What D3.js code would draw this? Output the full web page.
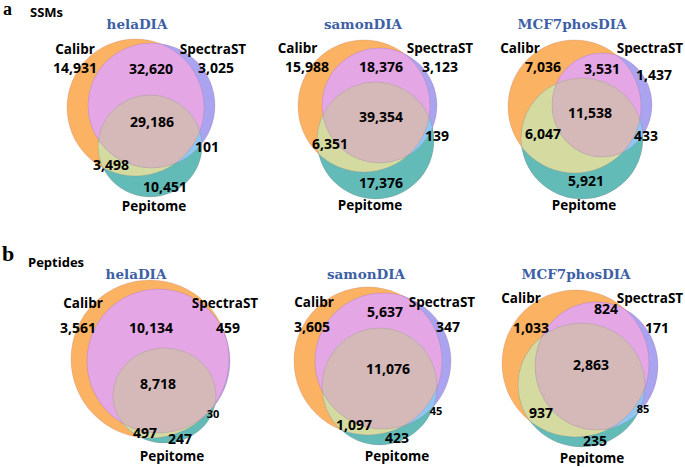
<!DOCTYPE html>
<html>
<head>
<meta charset="utf-8">
<script src="https://cdn.jsdelivr.net/npm/d3@7"></script>
<style>
  html, body { margin: 0; padding: 0; background: #fff; }
  svg { display: block; }
</style>
</head>
<body>
<div id="chart"></div>
<script>
// ---------------- DATA ----------------
const DATASETS = ["helaDIA", "samonDIA", "MCF7phosDIA"];
const LEVELS = ["SSMs", "Peptides"];
const PANEL_LETTERS = ["a", "b"];
const SETS = ["Calibr", "SpectraST", "Pepitome"];
// region order: Calibr only, SpectraST only, Pepitome only, C∩S, C∩P, S∩P, C∩S∩P
const REGIONS = ["C", "S", "P", "CS", "CP", "SP", "CSP"];
const SSM_COUNTS = [
  [14931, 3025, 10451, 32620, 3498, 101, 29186],
  [15988, 3123, 17376, 18376, 6351, 139, 39354],
  [7036, 1437, 5921, 3531, 6047, 433, 11538]
];
const PEPTIDE_COUNTS = [
  [3561, 459, 247, 10134, 497, 30, 8718],
  [3605, 347, 423, 5637, 1097, 45, 11076],
  [1033, 171, 235, 824, 937, 85, 2863]
];

// ---------------- LAYOUT (panel-local units) ----------------
const COL_ORIGIN = [0, 230, 455];
const ROW_ORIGIN = [0, 230];
const PANEL_SIZE = 230;
// ellipses [cx, cy, rx, ry] for Calibr, SpectraST, Pepitome
const ELLIPSES = [
  [
    [[135.5, 107.5, 68.5, 68.5], [151.5, 105.5, 63.5, 62.5], [150, 146, 52, 51]],
    [[134, 106, 66, 66], [149.5, 105.5, 57.5, 57.5], [145.5, 140.5, 58.5, 58.5]],
    [[119.5, 106.5, 66.5, 66.5], [147, 105, 50, 52], [127, 138.5, 61, 60.5]]
  ],
  [
    [[150, 129, 79, 79], [158.5, 131, 71.5, 72], [164.5, 165.5, 51.5, 47.5]],
    [[138, 131, 74, 74], [153, 131, 68, 68], [149.5, 156.5, 57.5, 58.5]],
    [[120.5, 133.5, 73.5, 73.5], [141.5, 136, 61.5, 64], [126.5, 155, 63.5, 62]]
  ]
];
// region label positions [x, baseline] in REGIONS order
const REGION_POS = [
  [
    [[75, 73], [216, 73], [165, 192], [151, 74], [111, 170], [207, 152], [152, 127]],
    [[77, 71.5], [210, 71.5], [151, 188], [151, 71.5], [100, 149], [207, 141], [151, 121.5]],
    [[88, 71.5], [199, 80], [131, 186], [147, 74], [88, 139], [191, 141], [135, 118]]
  ],
  [
    [[78, 103], [228, 103], [180, 214], [151, 103], [145, 208], [213, 187.5], [158, 158.5]],
    [[82, 101.7], [218, 101.7], [167, 213], [155, 86.7], [124, 199.5], [206, 185], [158, 144]],
    [[76, 103], [202, 103], [140, 216], [151, 84], [86, 187.7], [188, 183.3], [136, 140]]
  ]
];
// set label positions [x, baseline] (centered)
const SET_POS = [
  [
    [[75, 54], [213, 54], [154, 211]],
    [[67.5, 53], [210, 53], [140, 210]],
    [[65, 53], [195, 53], [129, 210]]
  ],
  [
    [[83, 78], [225, 78], [172, 230.5]],
    [[84, 77], [212, 77], [167, 231]],
    [[66, 73], [195, 73], [137, 233]]
  ]
];
const TITLE_POS = [
  [[137, 29], [133, 29], [117, 29]],
  [[136, 49], [136, 49], [121, 49]]
];
const ROW_LABEL_POS = [[30, 16.5], [28, 37]];
const LETTER_POS = [[3, 15], [2, 31]];
const LETTER_SIZE = [18, 22];

const REGION_COLORS = {
  C: "#fbb262", S: "#aaa3ef", P: "#63bbb8",
  CS: "#e5a6e5", CP: "#d5dba0", SP: "#90c6f4", CSP: "#d5b8b8"
};
const SMALL_REGIONS = { 1: ["SP"] }; // rows with smaller labels for tiny regions

// ---------------- DRAW ----------------
const W = 685, H = 467;
const svg = d3.select("#chart").append("svg").attr("width", W).attr("height", H);
const defs = svg.append("defs");
const fmt = d3.format(",");
const SANS = "'Open Sans', 'Liberation Sans', sans-serif";
const SERIF = "'DejaVu Serif', 'Liberation Serif', serif";

const allCounts = [SSM_COUNTS, PEPTIDE_COUNTS];

LEVELS.forEach((level, r) => {
  const rx0 = d3.scaleLinear().domain([0, PANEL_SIZE]).range([0, PANEL_SIZE]);
  const ry0 = d3.scaleLinear().domain([0, PANEL_SIZE]).range([ROW_ORIGIN[r], ROW_ORIGIN[r] + PANEL_SIZE]);
  svg.append("text")
    .attr("x", rx0(LETTER_POS[r][0])).attr("y", ry0(LETTER_POS[r][1]))
    .attr("font-family", "'Liberation Serif', serif").attr("font-weight", 700)
    .attr("font-size", LETTER_SIZE[r]).attr("fill", "#000").text(PANEL_LETTERS[r]);
  svg.append("text")
    .attr("x", rx0(ROW_LABEL_POS[r][0])).attr("y", ry0(ROW_LABEL_POS[r][1]))
    .attr("font-family", SANS).attr("font-weight", 700)
    .attr("font-size", 13).attr("fill", "#000").text(level);

  DATASETS.forEach((ds, c) => {
    const x = d3.scaleLinear().domain([0, PANEL_SIZE]).range([COL_ORIGIN[c], COL_ORIGIN[c] + PANEL_SIZE]);
    const y = d3.scaleLinear().domain([0, PANEL_SIZE]).range([ROW_ORIGIN[r], ROW_ORIGIN[r] + PANEL_SIZE]);
    const len = v => x(v) - x(0);
    const ells = ELLIPSES[r][c];
    const g = svg.append("g");
    const id = k => `clip-${r}-${c}-${k}`;

    ells.forEach((e, k) => {
      defs.append("clipPath").attr("id", id(k))
        .append("ellipse")
        .attr("cx", x(e[0])).attr("cy", y(e[1])).attr("rx", len(e[2])).attr("ry", len(e[3]));
    });
    const ellipse = (parent, k, fill) => {
      const e = ells[k];
      return parent.append("ellipse")
        .attr("cx", x(e[0])).attr("cy", y(e[1])).attr("rx", len(e[2])).attr("ry", len(e[3]))
        .attr("fill", fill);
    };
    ellipse(g, 0, REGION_COLORS.C);
    ellipse(g, 1, REGION_COLORS.S);
    ellipse(g, 2, REGION_COLORS.P);
    ellipse(g.append("g").attr("clip-path", `url(#${id(0)})`), 1, REGION_COLORS.CS);
    ellipse(g.append("g").attr("clip-path", `url(#${id(0)})`), 2, REGION_COLORS.CP);
    ellipse(g.append("g").attr("clip-path", `url(#${id(1)})`), 2, REGION_COLORS.SP);
    ellipse(g.append("g").attr("clip-path", `url(#${id(0)})`)
      .append("g").attr("clip-path", `url(#${id(1)})`), 2, REGION_COLORS.CSP);
    ells.forEach((e, k) => {
      g.append("ellipse")
        .attr("cx", x(e[0])).attr("cy", y(e[1])).attr("rx", len(e[2])).attr("ry", len(e[3]))
        .attr("fill", "none").attr("stroke", "#9a5a6a").attr("stroke-opacity", 0.22)
        .attr("stroke-width", 0.9);
    });

    svg.append("text")
      .attr("x", x(TITLE_POS[r][c][0])).attr("y", y(TITLE_POS[r][c][1]))
      .attr("text-anchor", "middle")
      .attr("font-family", SERIF).attr("font-weight", 700)
      .attr("font-size", 13.5).attr("fill", "#3d5fa6").text(ds);

    SETS.forEach((s, k) => {
      svg.append("text")
        .attr("x", x(SET_POS[r][c][k][0])).attr("y", y(SET_POS[r][c][k][1]))
        .attr("text-anchor", "middle")
        .attr("font-family", SANS).attr("font-weight", 700)
        .attr("font-size", 13.5).attr("fill", "#000").text(s);
    });

    const counts = allCounts[r][c];
    REGIONS.forEach((reg, k) => {
      const small = (SMALL_REGIONS[r] || []).includes(reg);
      svg.append("text")
        .attr("x", x(REGION_POS[r][c][k][0])).attr("y", y(REGION_POS[r][c][k][1]))
        .attr("text-anchor", "middle")
        .attr("font-family", SANS).attr("font-weight", 700)
        .attr("font-size", small ? 11 : 14).attr("fill", "#000")
        .text(fmt(counts[k]));
    });
  });
});
</script>
</body>
</html>
